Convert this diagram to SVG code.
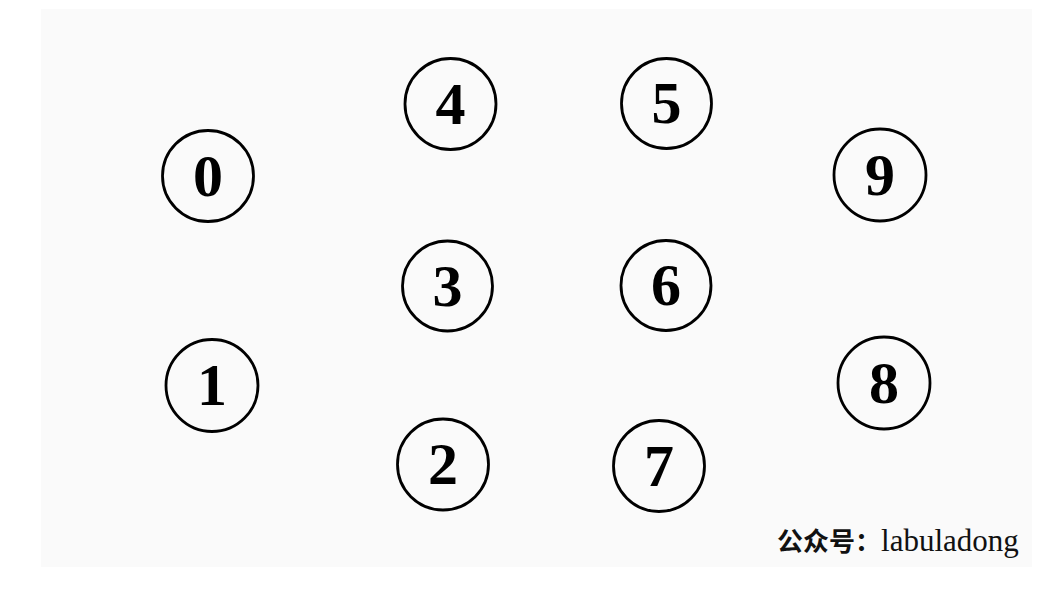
<svg xmlns="http://www.w3.org/2000/svg" width="1048" height="602" viewBox="0 0 1048 602">
<style>
.node circle{fill:none;stroke:#000;stroke-width:2.8}
.node text{font-family:"Liberation Serif","DejaVu Serif",serif;font-size:60px;font-weight:bold;fill:#000;text-anchor:middle;dominant-baseline:central}
.wm{font-size:26px;fill:#111}
.cjk{font-family:"Noto Sans CJK SC",sans-serif;font-weight:bold}
.lat{font-family:"Liberation Serif",serif;font-size:31px}
</style>
<rect x="0" y="0" width="1048" height="602" fill="#ffffff"/>
<rect x="41" y="9" width="991" height="558" fill="#fafafa"/>
<g id="connectors"></g>
<g id="node0" class="node"><circle cx="208" cy="176" r="45.5"/><text x="208" y="176">0</text></g>
<g id="node1" class="node"><circle cx="212" cy="385.5" r="46"/><text x="212" y="385">1</text></g>
<g id="node2" class="node"><circle cx="443" cy="464.5" r="45.5"/><text x="443" y="464">2</text></g>
<g id="node3" class="node"><circle cx="447.5" cy="286" r="45"/><text x="447.5" y="286">3</text></g>
<g id="node4" class="node"><circle cx="450.5" cy="104" r="45.5"/><text x="450.5" y="104">4</text></g>
<g id="node5" class="node"><circle cx="666.5" cy="103.5" r="45"/><text x="666.5" y="103">5</text></g>
<g id="node6" class="node"><circle cx="666" cy="285.5" r="45"/><text x="666" y="285">6</text></g>
<g id="node7" class="node"><circle cx="659" cy="466" r="45.5"/><text x="659" y="466">7</text></g>
<g id="node8" class="node"><circle cx="884" cy="383" r="46"/><text x="884" y="383">8</text></g>
<g id="node9" class="node"><circle cx="880" cy="175" r="46"/><text x="880" y="175">9</text></g>
<text class="wm" x="777" y="551"><tspan class="cjk">公众号：</tspan><tspan class="lat">labuladong</tspan></text>
</svg>
